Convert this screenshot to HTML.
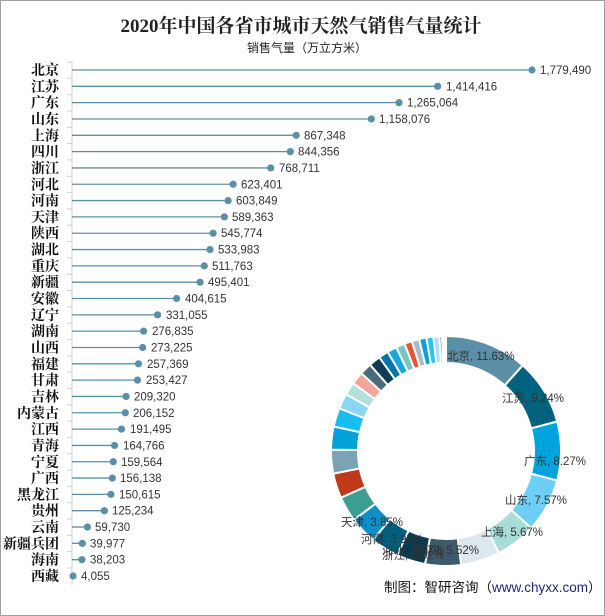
<!DOCTYPE html>
<html><head><meta charset="utf-8"><style>
html,body{margin:0;padding:0;background:#fff}
#wrap{position:relative;width:603px;height:614px;border:1px solid #a0a0a0;overflow:hidden}
svg{position:absolute;left:0;top:0}
.lab{font-family:"Liberation Serif","Noto Serif CJK SC","Noto Sans CJK SC",serif;font-weight:bold;font-size:14px;fill:#111}
.val{font-family:"Liberation Sans","Noto Sans CJK SC",sans-serif;font-size:11.5px;fill:#333}
.dl{font-family:"Liberation Sans","Noto Sans CJK SC",sans-serif;font-size:11.5px;fill:#333}
</style></head><body><div id="wrap">
<svg width="603" height="614" xmlns="http://www.w3.org/2000/svg">
<text x="300" y="31" text-anchor="middle" style="font-family:'Liberation Serif','Noto Serif CJK SC',serif;font-weight:bold;font-size:19px;fill:#222">2020年中国各省市城市天然气销售气量统计</text>
<text x="306" y="51" text-anchor="middle" style="font-family:'Liberation Sans','Noto Sans CJK SC',sans-serif;font-size:12px;fill:#222">销售气量（万立方米）</text>
<line x1="71" y1="61" x2="71" y2="584" stroke="#d0d0d0" stroke-width="1"/>
<g id="bars"></g>
<g id="donut"></g>
<g text-anchor="end">
<text class="lab" x="58" y="74">北京</text>
<text class="lab" x="58" y="90.3">江苏</text>
<text class="lab" x="58" y="106.6">广东</text>
<text class="lab" x="58" y="123">山东</text>
<text class="lab" x="58" y="139.3">上海</text>
<text class="lab" x="58" y="155.6">四川</text>
<text class="lab" x="58" y="171.9">浙江</text>
<text class="lab" x="58" y="188.3">河北</text>
<text class="lab" x="58" y="204.6">河南</text>
<text class="lab" x="58" y="220.9">天津</text>
<text class="lab" x="58" y="237.2">陕西</text>
<text class="lab" x="58" y="253.6">湖北</text>
<text class="lab" x="58" y="269.9">重庆</text>
<text class="lab" x="58" y="286.2">新疆</text>
<text class="lab" x="58" y="302.5">安徽</text>
<text class="lab" x="58" y="318.8">辽宁</text>
<text class="lab" x="58" y="335.2">湖南</text>
<text class="lab" x="58" y="351.5">山西</text>
<text class="lab" x="58" y="367.8">福建</text>
<text class="lab" x="58" y="384.1">甘肃</text>
<text class="lab" x="58" y="400.5">吉林</text>
<text class="lab" x="58" y="416.8">内蒙古</text>
<text class="lab" x="58" y="433.1">江西</text>
<text class="lab" x="58" y="449.4">青海</text>
<text class="lab" x="58" y="465.8">宁夏</text>
<text class="lab" x="58" y="482.1">广西</text>
<text class="lab" x="58" y="498.4">黑龙江</text>
<text class="lab" x="58" y="514.7">贵州</text>
<text class="lab" x="58" y="531">云南</text>
<text class="lab" x="58" y="547.4">新疆兵团</text>
<text class="lab" x="58" y="563.7">海南</text>
<text class="lab" x="58" y="580">西藏</text>
</g>
<g>
<text class="val" x="539" y="73">1,779,490</text>
<text class="val" x="445" y="89.3">1,414,416</text>
<text class="val" x="406" y="105.6">1,265,064</text>
<text class="val" x="378" y="122">1,158,076</text>
<text class="val" x="303" y="138.3">867,348</text>
<text class="val" x="297" y="154.6">844,356</text>
<text class="val" x="278" y="170.9">768,711</text>
<text class="val" x="240" y="187.3">623,401</text>
<text class="val" x="235" y="203.6">603,849</text>
<text class="val" x="231" y="219.9">589,363</text>
<text class="val" x="220" y="236.2">545,774</text>
<text class="val" x="217" y="252.6">533,983</text>
<text class="val" x="211" y="268.9">511,763</text>
<text class="val" x="207" y="285.2">495,401</text>
<text class="val" x="184" y="301.5">404,615</text>
<text class="val" x="165" y="317.8">331,055</text>
<text class="val" x="151" y="334.2">276,835</text>
<text class="val" x="150" y="350.5">273,225</text>
<text class="val" x="146" y="366.8">257,369</text>
<text class="val" x="145" y="383.1">253,427</text>
<text class="val" x="133" y="399.5">209,320</text>
<text class="val" x="132" y="415.8">206,152</text>
<text class="val" x="129" y="432.1">191,495</text>
<text class="val" x="122" y="448.4">164,766</text>
<text class="val" x="120" y="464.8">159,564</text>
<text class="val" x="119" y="481.1">156,138</text>
<text class="val" x="118" y="497.4">150,615</text>
<text class="val" x="111" y="513.7">125,234</text>
<text class="val" x="94" y="530">59,730</text>
<text class="val" x="89" y="546.4">39,977</text>
<text class="val" x="89" y="562.7">38,203</text>
<text class="val" x="80" y="579">4,055</text>
</g>
<g>
<text class="dl" x="446" y="359">北京, 11.63%</text>
<text class="dl" x="501" y="401">江苏, 9.24%</text>
<text class="dl" x="523" y="464">广东, 8.27%</text>
<text class="dl" x="504" y="503">山东, 7.57%</text>
<text class="dl" x="480" y="535">上海, 5.67%</text>
<text class="dl" x="416" y="553">四川, 5.52%</text>
<text class="dl" x="381" y="558">浙江, 5.02%</text>
<text class="dl" x="381" y="553">河北, 4.07%</text>
<text class="dl" x="360" y="542">河南, 3.95%</text>
<text class="dl" x="340" y="525">天津, 3.85%</text>
</g>
<text x="383" y="591" style="font-family:'Liberation Sans','Noto Sans CJK SC',sans-serif;font-size:13.5px;fill:#111">制图：智研咨询（<tspan fill="#1f2a6b">www.chyxx.com</tspan>）</text>
</svg>
<script>
(function(){
var vals=[1779490,1414416,1265064,1158076,867348,844356,768711,623401,603849,589363,545774,533983,511763,495401,404615,331055,276835,273225,257369,253427,209320,206152,191495,164766,159564,156138,150615,125234,59730,39977,38203,4055];
var ns="http://www.w3.org/2000/svg";
function el(t,a,p){var e=document.createElementNS(ns,t);for(var k in a)e.setAttribute(k,a[k]);p.appendChild(e);return e;}
var bars=document.getElementById('bars');
var n=vals.length, step=(575-69)/(n-1);
for(var i=0;i<n;i++){
 var y=69+i*step, x=71+vals[i]*0.0002585;
 el('line',{x1:66,y1:y-8,x2:71,y2:y-8,stroke:'#d0d0d0'},bars);
 el('line',{x1:71,y1:y,x2:x,y2:y,stroke:'#5b8fa8','stroke-width':1.3},bars);
 el('circle',{cx:x,cy:y,r:3.6,fill:'#5b8fa8'},bars);
}
var cols=['#5b8fa8','#00627f','#00a4dc','#6dcff6','#a8dcd8','#dde8ee','#3d5a6c','#0b3a4f','#005f80','#0f8fc7','#3c9d95','#c0391b','#7ba2b5','#00a0d8','#19bdf0','#8ad7f4','#b2e0dc','#f2a698','#4b6b7c','#0d3e56','#0077a8','#17a8e0','#77c8c0','#e6562f','#a6bcc8','#0aa1d9','#28c3f5','#a7def4','#5b8fa8','#00627f','#00a4dc','#6dcff6'];
var tot=0;vals.forEach(function(v){tot+=v});
var cx=445,cy=450,R=115,r=88,a=-Math.PI/2,g=document.getElementById('donut');
for(var j=0;j<n;j++){
 var b=a+vals[j]/tot*2*Math.PI;
 var large=(b-a)>Math.PI?1:0;
 var d='M'+(cx+R*Math.cos(a))+' '+(cy+R*Math.sin(a))+' A'+R+' '+R+' 0 '+large+' 1 '+(cx+R*Math.cos(b))+' '+(cy+R*Math.sin(b))+' L'+(cx+r*Math.cos(b))+' '+(cy+r*Math.sin(b))+' A'+r+' '+r+' 0 '+large+' 0 '+(cx+r*Math.cos(a))+' '+(cy+r*Math.sin(a))+' Z';
 el('path',{d:d,fill:cols[j],stroke:'#fff','stroke-width':2},g);
 a=b;
}
})();
</script>
</div></body></html>
